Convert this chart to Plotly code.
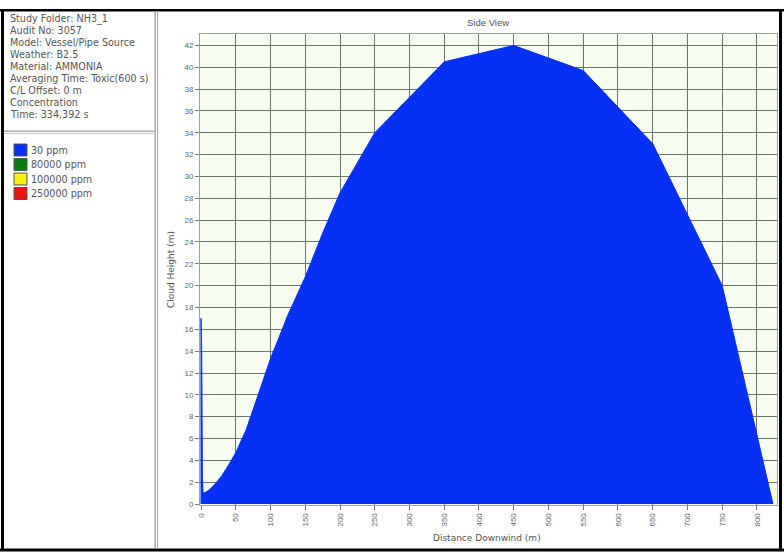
import plotly.graph_objects as go

# ---- data ----
distance = [0, 0, 1, 2, 3, 6, 12, 20, 30, 40, 50, 65, 80, 100, 125, 150, 175, 200,
            250, 350, 450, 550, 650, 750, 823]
height = [0, 17, 14, 2.5, 1.0, 1.05, 1.3, 1.8, 2.6, 3.6, 4.7, 6.8, 9.5, 13.3, 17.3,
          20.8, 24.8, 28.5, 34, 40.5, 42, 39.7, 33, 20, 0]
x_ticks = list(range(0, 801, 50))
y_ticks = list(range(0, 43, 2))
info_lines = ["Study Folder: NH3_1", "Audit No: 3057", "Model: Vessel/Pipe Source",
              "Weather: B2.5", "Material: AMMONIA", "Averaging Time: Toxic(600 s)",
              "C/L Offset: 0 m", "Concentration", "Time: 334,392 s"]
legend_labels = ["30 ppm", "80000 ppm", "100000 ppm", "250000 ppm"]
legend_colors = ["#0630f5", "#0a7a12", "#f2f20a", "#e8160e"]

W, H = 784, 555
def px(x):
    return x / W
def py(y):
    return 1 - y / H

fig = go.Figure()
fig.add_trace(go.Scatter(x=distance, y=height, fill="toself", mode="lines",
                         line=dict(color=legend_colors[0], width=1),
                         fillcolor=legend_colors[0], hoverinfo="skip", showlegend=False))

font_fam = "Liberation Sans, Arial, sans-serif"
wide_fam = "DejaVu Sans, Verdana, sans-serif"
grid_col = "#66786a"
fig.update_layout(
    width=W, height=H,
    margin=dict(l=0, r=0, t=0, b=0, autoexpand=False),
    paper_bgcolor="white",
    plot_bgcolor="#f7fdf1",
    showlegend=False,
    font=dict(family=font_fam, size=8, color="#555"),
    xaxis=dict(domain=[px(200), px(777)], range=[-1.44, 828.8], tickvals=x_ticks,
               ticktext=[str(v) for v in x_ticks], tickangle=-90,
               showgrid=True, gridcolor=grid_col, gridwidth=1, zeroline=False,
               ticks="outside", ticklen=4, tickcolor="#777",
               showline=True, linecolor="#a0a0a0", mirror=True,
               tickfont=dict(size=8, color="#666"), anchor="y"),
    yaxis=dict(domain=[py(505), py(34)], range=[-0.09, 43.05], tickvals=y_ticks,
               showgrid=True, gridcolor=grid_col, gridwidth=1, zeroline=False,
               ticks="outside", ticklen=4, tickcolor="#777",
               showline=True, linecolor="#a0a0a0", mirror=True,
               tickfont=dict(size=8, color="#666"), anchor="x"),
)

shapes = []
def rect(x0, y0, x1, y1, color):
    shapes.append(dict(type="rect", xref="paper", yref="paper", x0=px(x0), x1=px(x1),
                       y0=py(y1), y1=py(y0), fillcolor=color, line=dict(width=0),
                       layer="above"))
# outer frame
rect(0, 9, 784, 11.5, "black")
rect(1, 10, 4, 551, "black")
rect(779, 10, 782, 551, "black")
rect(0, 548.5, 784, 551.5, "black")
# panel separators
rect(154.5, 11, 155.8, 549, "#9a9a9a")
rect(157, 11, 158.2, 549, "#b0b0b0")
rect(4, 130.5, 155, 131.7, "#9a9a9a")
rect(4, 133, 155, 134, "#c8c8c8")

annotations = []
for i, t in enumerate(info_lines):
    annotations.append(dict(text=t, xref="paper", yref="paper", x=px(8), y=py(19 + i * 11.9),
                            xanchor="left", yanchor="middle", showarrow=False,
                            font=dict(size=9.6, color="#555", family=wide_fam)))
for i, (lab, col) in enumerate(zip(legend_labels, legend_colors)):
    yc = 150 + i * 14.5
    shapes.append(dict(type="rect", xref="paper", yref="paper", x0=px(14), x1=px(27),
                       y0=py(yc + 6), y1=py(yc - 6), fillcolor=col,
                       line=dict(color="#555", width=1), layer="above"))
    annotations.append(dict(text=lab, xref="paper", yref="paper", x=px(29), y=py(yc),
                            xanchor="left", yanchor="middle", showarrow=False,
                            font=dict(size=9.6, color="#555", family=wide_fam)))
annotations.append(dict(text="Side View", xref="paper", yref="paper", x=px(488), y=py(22),
                        xanchor="center", yanchor="middle", showarrow=False,
                        font=dict(size=9.5, color="#555", family=font_fam)))
annotations.append(dict(text="Distance Downwind (m)", xref="paper", yref="paper",
                        x=px(487), y=py(538), xanchor="center", yanchor="middle",
                        showarrow=False, font=dict(size=9, color="#555", family=wide_fam)))
annotations.append(dict(text="Cloud Height (m)", xref="paper", yref="paper",
                        x=px(171), y=py(270), xanchor="center", yanchor="middle",
                        textangle=-90, showarrow=False,
                        font=dict(size=9, color="#555", family=wide_fam)))
fig.update_layout(shapes=shapes, annotations=annotations)
fig.write_html("out.html", config={"displayModeBar": False},
               post_script="document.body.style.margin='0';")
